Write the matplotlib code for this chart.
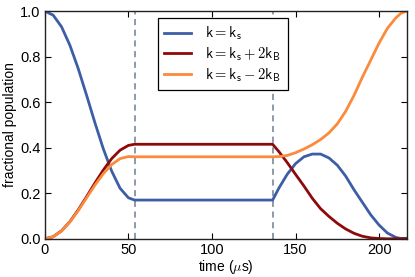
import matplotlib
matplotlib.use("Agg")
import matplotlib.pyplot as plt

plt.rcParams["font.family"] = ["Liberation Sans", "DejaVu Sans"]
plt.rcParams["mathtext.fontset"] = "cm"

# pulse boundaries (us)
pulse_edges = [53.7, 136.3]

# time grid (us): first pulse, then second pulse (plateau joins them)
time_us = [0, 5, 10, 15, 20, 25, 30, 35, 40, 45, 50, 53.7,
           136.3, 140, 145, 150, 155, 160, 165, 170, 175, 180, 185, 190,
           195, 200, 205, 210, 213, 216.5]

pop_ks = [1.0, 0.982, 0.931, 0.850, 0.747, 0.630, 0.509, 0.395, 0.297, 0.222, 0.180, 0.170,
          0.170, 0.222, 0.283, 0.330, 0.360, 0.372, 0.372, 0.355, 0.323, 0.275, 0.215, 0.160,
          0.105, 0.060, 0.025, 0.006, 0.001, 0.002]
pop_plus = [0.0, 0.009, 0.035, 0.075, 0.127, 0.185, 0.245, 0.302, 0.352, 0.389, 0.410, 0.415,
            0.415, 0.383, 0.335, 0.283, 0.232, 0.178, 0.132, 0.098, 0.068, 0.043, 0.024, 0.011,
            0.004, 0.001, 0.0, 0.0, 0.0, 0.0]
pop_minus = [0.0, 0.009, 0.034, 0.074, 0.124, 0.180, 0.236, 0.286, 0.326, 0.352, 0.361, 0.360,
             0.360, 0.361, 0.366, 0.378, 0.394, 0.413, 0.436, 0.465, 0.505, 0.560, 0.630, 0.710,
             0.785, 0.860, 0.925, 0.970, 0.990, 1.0]

labels = [r"$\mathsf{k = k_s}$", r"$\mathsf{k = k_s + 2k_B}$", r"$\mathsf{k = k_s - 2k_B}$"]
colors = ["#3d5ea6", "#8c0a0a", "#fb8a3c"]

fig = plt.figure(figsize=(4.15, 2.77), dpi=100)
ax = fig.add_axes([0.108, 0.138, 0.872, 0.822])

for x in pulse_edges:
    ax.axvline(x, color="#6f7f8f", lw=1.1, ls=(0, (4, 3)), zorder=1)

for y, lab, c in zip([pop_ks, pop_plus, pop_minus], labels, colors):
    ax.plot(time_us, y, color=c, lw=2.0, label=lab, zorder=2)

ax.set_xlim(0, 216.5)
ax.set_ylim(0, 1.0)
ax.set_xticks([0, 50, 100, 150, 200])
ax.set_yticks([0.0, 0.2, 0.4, 0.6, 0.8, 1.0])
ax.set_yticklabels(["0.0", "0.2", "0.4", "0.6", "0.8", "1.0"])
ax.tick_params(direction="in", top=True, right=True, length=4, width=0.8,
               labelsize=10.5, pad=3)
for s in ax.spines.values():
    s.set_linewidth(1.0)
    s.set_color("#222222")

ax.set_xlabel(r"time ($\mu$s)", fontsize=10, labelpad=1)
ax.set_ylabel("fractional population", fontsize=10, labelpad=2)

leg = ax.legend(loc="upper left", bbox_to_anchor=(0.312, 0.969), borderaxespad=0,
                fontsize=10.5, handlelength=1.8, fancybox=False, framealpha=1,
                edgecolor="black", labelspacing=0.22, borderpad=0.45, handletextpad=1.0)
leg.get_frame().set_linewidth(0.9)

fig.savefig("out.png", dpi=100)
